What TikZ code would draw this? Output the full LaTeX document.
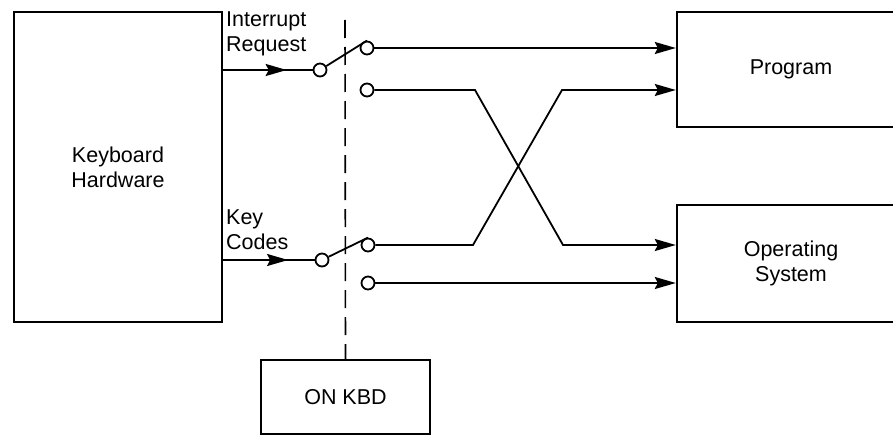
\documentclass[tikz,border=0pt]{standalone}
\usepackage{fontspec}
\setmainfont{Liberation Sans}
\usetikzlibrary{positioning,arrows.meta,decorations.markings}

\begin{document}
\begin{tikzpicture}[x=1pt,y=-1pt,
      font=\fontsize{21.5}{25}\selectfont,
      blk/.style={draw,line width=2.4pt,align=center,inner sep=0pt},
      wire/.style={line width=1.8pt},
      arr/.style={wire,-{Stealth[length=21pt,width=12pt,inset=3pt]}},
      midarr/.style={wire,decoration={markings,
          mark=at position 0.71 with {\arrow{Stealth[length=21pt,width=12pt,inset=3pt]}}},
          postaction={decorate}},
      contact/.style={circle,draw,line width=1.8pt,fill=white,minimum size=13pt,inner sep=0pt},
      lbl/.style={anchor=base west,align=left,inner sep=0pt}]
    \useasboundingbox (0,0) rectangle (893,436);
    \clip (0,0) rectangle (893,436);
    % blocks
    \node[blk,minimum width=208pt,minimum height=310pt] (kbd) at (118,167) {Keyboard\\Hardware};
    \node[blk,minimum width=228pt,minimum height=115pt] (prog) at (791,69.5) {Program};
    \node[blk,minimum width=228pt,minimum height=117pt] (os) at (791,263.5) {Operating\\System};
    \node[blk,minimum width=169pt,minimum height=74pt] (onkbd) at (345.5,397) {ON KBD};
    % switch contacts
    \node[contact] (a1) at (320,70) {};
    \node[contact] (b1) at (367,48) {};
    \node[contact] (c1) at (367,90) {};
    \node[contact] (a2) at (322,260) {};
    \node[contact] (b2) at (368,245) {};
    \node[contact] (c2) at (368,283) {};
    % labels on the inputs (base = last line)
    \node[lbl] (irqlbl) at (226,52) {Interrupt\\Request};
    \node[lbl] (keylbl) at (226,249) {Key\\Codes};
    % mechanical link between the two switches
    \coordinate (dtop) at (345,20);
    \draw[line width=1.6pt,dash pattern=on 18pt off 9pt] (dtop) -- (onkbd.north);
    % inputs
    \draw[midarr] (kbd.east |- a1) -- (a1);
    \draw[midarr] (kbd.east |- a2) -- (a2);
    % levers
    \draw[wire] (a1) -- (b1.north);
    \draw[wire] (a2) -- (b2.north);
    % outputs
    \draw[arr] (b1) -- (prog.west |- b1);
    \draw[arr] (c1) -- (475,90) -- (563,245) -- (os.west |- b2);
    \draw[arr] (b2) -- (473,245) -- (562,90) -- (prog.west |- c1);
    \draw[arr] (c2) -- (os.west |- c2);
  \end{tikzpicture}
\end{document}
